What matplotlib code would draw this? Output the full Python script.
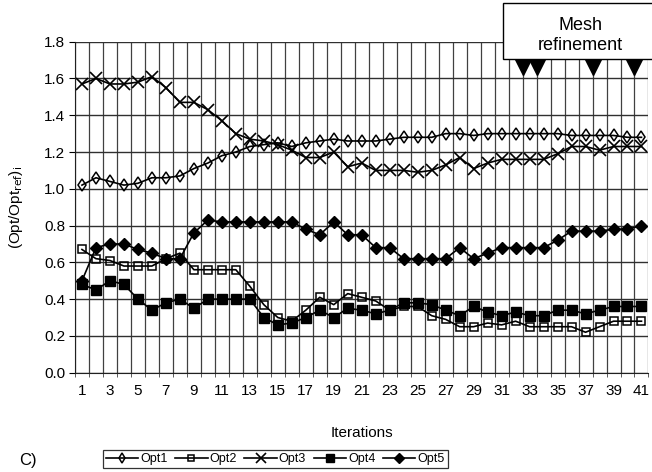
import matplotlib
matplotlib.use("Agg")
import matplotlib.pyplot as plt
from matplotlib.patches import Rectangle
import numpy as np

plt.rcParams['font.family'] = ['Liberation Sans', 'DejaVu Sans']

iterations = np.arange(1, 42)
opt1 = [1.02, 1.06, 1.04, 1.02, 1.03, 1.06, 1.06, 1.07, 1.11, 1.14,
        1.18, 1.20, 1.23, 1.24, 1.25, 1.23, 1.25, 1.26, 1.27, 1.26,
        1.26, 1.26, 1.27, 1.28, 1.28, 1.28, 1.30, 1.30, 1.29, 1.30,
        1.30, 1.30, 1.30, 1.30, 1.30, 1.29, 1.29, 1.29, 1.29, 1.28, 1.28]
opt2 = [0.67, 0.62, 0.61, 0.58, 0.58, 0.58, 0.62, 0.65, 0.56, 0.56,
        0.56, 0.56, 0.47, 0.37, 0.30, 0.28, 0.34, 0.41, 0.37, 0.43,
        0.41, 0.39, 0.34, 0.36, 0.36, 0.31, 0.29, 0.25, 0.25, 0.27,
        0.26, 0.28, 0.25, 0.25, 0.25, 0.25, 0.22, 0.25, 0.28, 0.28, 0.28]
opt3 = [1.57, 1.60, 1.57, 1.57, 1.58, 1.61, 1.55, 1.47, 1.47, 1.43,
        1.37, 1.30, 1.27, 1.26, 1.24, 1.21, 1.17, 1.17, 1.20, 1.12,
        1.14, 1.10, 1.10, 1.10, 1.09, 1.10, 1.13, 1.17, 1.11, 1.14,
        1.16, 1.16, 1.16, 1.16, 1.19, 1.23, 1.23, 1.21, 1.23, 1.23, 1.23]
opt4 = [0.48, 0.45, 0.50, 0.48, 0.40, 0.34, 0.38, 0.40, 0.35, 0.40,
        0.40, 0.40, 0.40, 0.30, 0.26, 0.27, 0.30, 0.34, 0.30, 0.35,
        0.34, 0.32, 0.34, 0.38, 0.38, 0.37, 0.34, 0.31, 0.36, 0.33,
        0.31, 0.33, 0.31, 0.31, 0.34, 0.34, 0.32, 0.34, 0.36, 0.36, 0.36]
opt5 = [0.50, 0.68, 0.70, 0.70, 0.67, 0.65, 0.62, 0.62, 0.76, 0.83,
        0.82, 0.82, 0.82, 0.82, 0.82, 0.82, 0.78, 0.75, 0.82, 0.75,
        0.75, 0.68, 0.68, 0.62, 0.62, 0.62, 0.62, 0.68, 0.62, 0.65,
        0.68, 0.68, 0.68, 0.68, 0.72, 0.77, 0.77, 0.77, 0.78, 0.78, 0.80]

# mesh refinement happens between these iterations
refine_at = [32.5, 33.5, 37.5, 40.5]

fig = plt.figure(figsize=(6.52, 4.72), dpi=100)
ax = fig.add_axes([0.115, 0.2104, 0.8796, 0.7013])

style = dict(color='black', lw=1.2)
ax.plot(iterations, opt1, marker='d', ms=6.5, mfc='none', mec='black', mew=1.1, label='Opt1', **style)
ax.plot(iterations, opt2, marker='s', ms=6, mfc='none', mec='black', mew=1.1, label='Opt2', **style)
ax.plot(iterations, opt3, marker='x', ms=9, mec='black', mew=1.2, label='Opt3', **style)
ax.plot(iterations, opt4, marker='s', ms=7, mfc='black', mec='black', label='Opt4', **style)
ax.plot(iterations, opt5, marker='D', ms=6.5, mfc='black', mec='black', label='Opt5', **style)

ax.set_xlim(0.5, 41.5)
ax.set_ylim(0, 1.8)
ax.set_yticks(np.arange(0, 1.81, 0.2))
ax.set_yticklabels([f'{v:.1f}' for v in np.arange(0, 1.81, 0.2)])
ax.set_xticks(iterations[::2])
ax.set_xticks(np.arange(0.5, 42, 1), minor=True)
ax.grid(True, axis='y', color='#303030', lw=1.0)
ax.grid(True, axis='x', which='minor', color='#404040', lw=0.9)
ax.set_axisbelow(True)
ax.tick_params(axis='x', which='major', length=0, pad=8, labelsize=11)
ax.tick_params(axis='x', which='minor', length=3, color='#404040')
ax.tick_params(axis='y', length=4, pad=3, labelsize=11)
for s in ['top', 'right']:
    ax.spines[s].set_visible(False)
ax.spines['left'].set_color('#202020')
ax.spines['bottom'].set_color('#202020')

ax.set_xlabel('Iterations', fontsize=11, labelpad=20)
ax.set_ylabel(r'(Opt/Opt$_{\mathrm{ref}}$)$_{\mathrm{i}}$', fontsize=11, labelpad=14)

# mesh refinement box and markers
fig.patches.append(Rectangle((503 / 652, 1 - 59 / 472), 150 / 652, 56 / 472,
                             transform=fig.transFigure, facecolor='white',
                             edgecolor='black', lw=1.0, zorder=5))
fig.text(580 / 652, 1 - 25 / 472, 'Mesh', ha='center', va='center', fontsize=13, zorder=6)
fig.text(580 / 652, 1 - 46 / 472, 'refinement', ha='center', va='center', fontsize=13, zorder=6)
ax.plot(refine_at, [1.665] * len(refine_at), ls='none', marker='v', ms=11,
        color='black', clip_on=False, zorder=7)

leg = fig.legend(loc='center', bbox_to_anchor=(0.422, 0.027), ncol=5, fontsize=9,
                 frameon=True, fancybox=False, edgecolor='black', handlelength=2.6,
                 handletextpad=0.15, columnspacing=0.6, borderpad=0.25, markerscale=0.8)
leg.get_frame().set_linewidth(0.9)

fig.text(0.03, 0.025, 'C)', fontsize=12, va='center')

fig.savefig('out.png', dpi=100)
